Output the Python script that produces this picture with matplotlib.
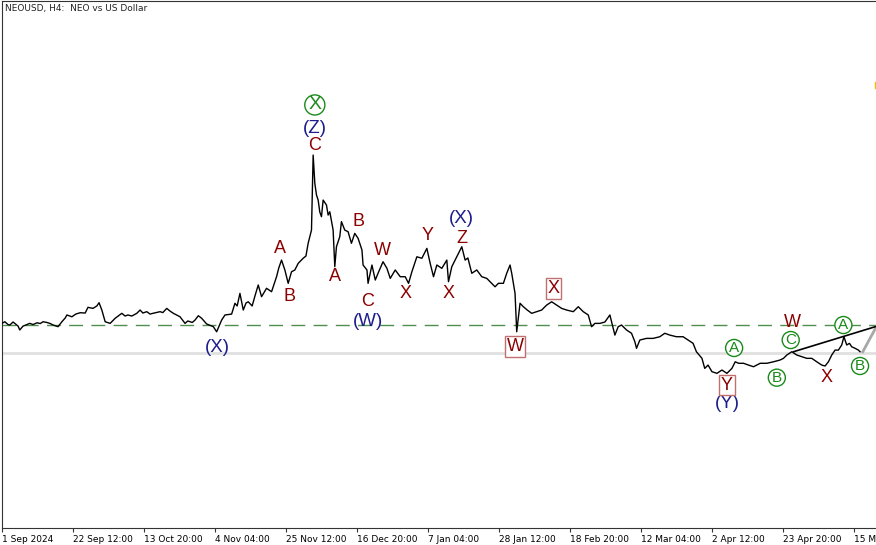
import matplotlib
matplotlib.use("Agg")
import matplotlib.pyplot as plt

# H4 bar index counted from the first tick (1 Sep 2024 04:00) and close price
bars = [
    0, 5, 11, 14, 20, 23, 29, 32, 38, 43, 50, 56, 63, 69, 74, 81, 87, 92, 101, 108,
    114, 117, 126, 133, 141, 150, 155, 164, 171, 175, 180, 186, 195, 204, 216, 222, 227, 234, 243, 249,
    254, 261, 267, 272, 285, 290, 297, 303, 309, 321, 330, 335, 343, 348, 354, 360, 369, 381, 387, 396,
    402, 414, 420, 424, 429, 435, 440, 444, 451, 456, 462, 468, 477, 486, 495, 499, 504, 510, 516, 522,
    528, 534, 543, 548, 552, 558, 561, 564, 567, 570, 573, 576, 579, 585, 588, 591, 597, 600, 603, 609,
    612, 618, 624, 630, 636, 642, 649, 651, 658, 660, 667, 673, 678, 687, 694, 700, 709, 718, 727, 733,
    739, 748, 757, 766, 772, 778, 784, 793, 802, 805, 811, 820, 829, 835, 840, 847, 856, 865, 874, 883,
    889, 895, 904, 910, 916, 919, 925, 928, 934, 940, 947, 955, 964, 973, 982, 991, 1000, 1009, 1018, 1030,
    1039, 1048, 1057, 1063, 1069, 1078, 1087, 1096, 1099, 1105, 1111, 1117, 1126, 1135, 1141, 1144, 1150, 1162, 1174, 1186,
    1195, 1204, 1216, 1228, 1237, 1246, 1252, 1262, 1267, 1273, 1280, 1289, 1298, 1307, 1316, 1322, 1328, 1337, 1346, 1355,
    1367, 1379, 1391, 1403, 1409, 1415, 1424, 1433, 1442, 1451, 1460, 1469, 1478, 1484, 1490, 1496, 1502, 1508, 1514, 1518,
    1523, 1528, 1532, 1538, 1544, 1547,
]
close = [
    9.11, 9.22, 9.03, 9.00, 9.20, 9.11, 8.93, 8.67, 8.93, 9.00, 9.11, 9.03, 9.15, 9.10, 9.22, 9.17, 9.10, 9.00, 8.89, 9.22,
    9.47, 9.67, 9.55, 9.73, 9.82, 9.80, 10.18, 10.11, 10.27, 10.49, 10.00, 9.22, 9.11, 9.45, 9.78, 9.60, 9.67, 9.60, 9.78, 10.00,
    9.80, 9.89, 9.73, 9.78, 9.89, 9.83, 10.11, 9.93, 9.78, 9.55, 9.11, 9.27, 9.17, 9.33, 9.62, 9.45, 9.07, 8.89, 8.55, 9.33,
    9.67, 9.73, 10.45, 10.27, 11.11, 10.00, 10.47, 10.55, 10.27, 10.93, 11.67, 10.89, 11.45, 11.22, 12.22, 12.80, 13.33, 12.67, 11.78, 12.55,
    12.67, 13.11, 13.45, 13.60, 14.45, 15.33, 20.33, 18.45, 17.67, 17.33, 16.53, 16.22, 17.33, 17.00, 16.33, 16.55, 15.33, 12.89, 14.22, 14.89,
    15.89, 15.33, 15.22, 14.45, 15.11, 14.78, 14.00, 13.00, 12.67, 11.78, 13.00, 12.00, 12.45, 13.22, 12.78, 12.11, 12.67, 12.22, 12.22, 11.78,
    12.55, 13.55, 13.45, 14.11, 13.11, 12.22, 13.00, 12.78, 13.33, 11.89, 12.89, 13.55, 14.22, 13.33, 13.47, 12.45, 12.67, 12.22, 12.11, 11.78,
    11.55, 11.78, 11.78, 12.45, 13.00, 12.45, 11.11, 8.55, 10.45, 10.22, 10.00, 9.78, 9.89, 10.00, 10.33, 10.55, 10.33, 10.11, 10.00, 9.89,
    10.22, 9.89, 9.67, 8.89, 9.11, 9.11, 9.20, 9.67, 9.22, 8.33, 8.89, 9.00, 8.67, 8.45, 7.89, 7.45, 8.00, 8.11, 8.11, 8.22,
    8.45, 8.33, 8.22, 8.22, 8.00, 7.78, 7.22, 6.78, 6.11, 6.33, 5.89, 5.78, 6.00, 5.78, 6.11, 6.55, 6.45, 6.45, 6.33, 6.22,
    6.45, 6.45, 6.55, 6.67, 6.78, 7.00, 7.22, 7.00, 6.89, 6.78, 6.78, 6.55, 6.33, 6.27, 6.55, 7.00, 7.33, 7.33, 7.67, 8.22,
    7.67, 7.78, 7.55, 7.45, 7.33, 7.22,
]

tick_labels = ["1 Sep 2024", "22 Sep 12:00", "13 Oct 20:00", "4 Nov 04:00", "25 Nov 12:00",
               "16 Dec 20:00", "7 Jan 04:00", "28 Jan 12:00", "18 Feb 20:00", "12 Mar 04:00",
               "2 Apr 12:00", "23 Apr 20:00", "15 May 04:00"]
bars_per_tick = 128

dashed_level = 9.00
grey_level = 7.13

# trend lines: (bar, price) start and end
trend_black = [(1427, 7.22), (1580, 8.95)]
trend_grey = [(1552, 7.22), (1580, 9.13)]

# wave labels: text, bar, price
red_labels = [("C", 564, 21.00), ("A", 501, 14.11), ("B", 519, 10.89), ("A", 600, 12.22),
              ("B", 642, 15.89), ("W", 685, 14.00), ("C", 659, 10.55), ("X", 728, 11.11),
              ("Y", 767, 15.00), ("X", 805, 11.11), ("Z", 830, 14.78), ("W", 1426, 9.15),
              ("X", 1486, 5.47)]
navy_labels = [("(Z)", 564, 22.11), ("(W)", 660, 9.22), ("(X)", 829, 16.11),
               ("(X)", 389, 7.47), ("(Y)", 1307, 3.80)]
boxed_labels = [("W", 925, 7.57), ("X", 994, 11.45), ("Y", 1307, 5.00)]
circled_labels = [("A", 1320, 7.47), ("B", 1397, 5.49), ("C", 1422, 8.00),
                  ("A", 1517, 9.00), ("B", 1547, 6.27)]
big_circled = [("X", 564, 23.67)]

RED = "#8b0000"
NAVY = "#1c1c8c"
GREEN = "#1a8a1a"

fig = plt.figure(figsize=(8.76, 5.45), dpi=100)
ax = fig.add_axes([2 / 876, 17 / 545, 874 / 876, 527 / 545])
ax.set_xlim(0, 1575.8)
ax.set_ylim(-4.53, 30.6)

ax.axhline(grey_level, color="#e0e0e0", lw=2, zorder=1)
ax.axhline(dashed_level, color="#4e8f4e", lw=1, dashes=(10, 6), zorder=1)

ax.plot(bars, close, color="black", lw=1.0, zorder=3)

ax.plot([p[0] for p in trend_black], [p[1] for p in trend_black], color="black", lw=1.2, zorder=3)
ax.plot([p[0] for p in trend_grey], [p[1] for p in trend_grey], color="#a8a8a8", lw=2, zorder=2)

# small marker at the right edge
ax.plot([1574.5, 1574.5], [24.8, 25.2], color="#e8c000", lw=1, zorder=3)

font = "Liberation Sans"
for txt, b, p in red_labels:
    ax.text(b, p, txt, color=RED, fontsize=13, family=font, ha="center", va="center", zorder=4)
for txt, b, p in navy_labels:
    ax.text(b, p, txt, color=NAVY, fontsize=13.5, family=font, ha="center", va="center", zorder=4)
for txt, b, p in boxed_labels:
    ax.text(b, p, txt, color=RED, fontsize=13, family=font, ha="center", va="center", zorder=4,
            bbox=dict(boxstyle="square,pad=0.1", fc="white", ec="#c07070", lw=1))
for txt, b, p in circled_labels:
    ax.text(b, p, txt, color=GREEN, fontsize=11, family=font, ha="center", va="center", zorder=4,
            bbox=dict(boxstyle="circle,pad=0.1", fc="white", ec=GREEN, lw=1))
for txt, b, p in big_circled:
    ax.text(b, p, txt, color=GREEN, fontsize=14, family=font, ha="center", va="center", zorder=4,
            bbox=dict(boxstyle="circle,pad=0.08", fc="white", ec=GREEN, lw=1))

ax.text(0.003, 0.985, "NEOUSD, H4:  NEO vs US Dollar", transform=ax.transAxes,
        fontsize=6.5, color="#222222", family="DejaVu Sans", ha="left", va="center")

ax.set_xticks([i * bars_per_tick for i in range(len(tick_labels))])
ax.set_xticklabels(tick_labels, fontsize=6.5, family="DejaVu Sans")
for lbl in ax.get_xticklabels():
    lbl.set_horizontalalignment("left")
ax.tick_params(axis="x", direction="out", length=3, width=0.8, pad=2, color="#333333")
ax.set_yticks([])

for side in ["left", "top", "bottom"]:
    ax.spines[side].set_color("#333333")
    ax.spines[side].set_linewidth(0.8)
ax.spines["right"].set_visible(False)

fig.savefig("out.png", dpi=100)
